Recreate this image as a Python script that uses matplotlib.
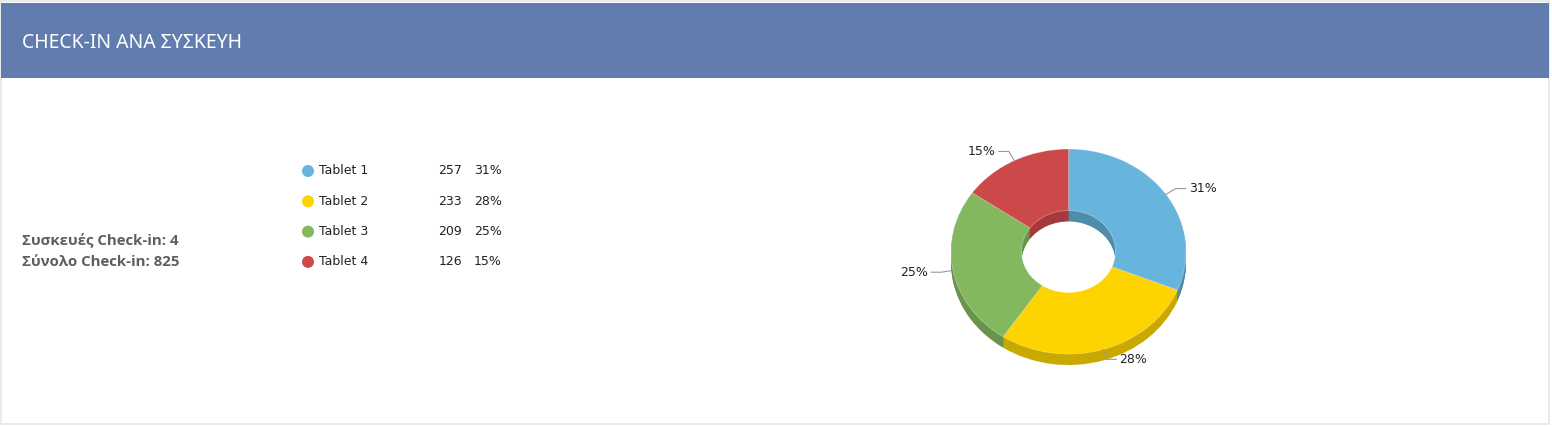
import matplotlib
matplotlib.use("Agg")
import matplotlib.pyplot as plt
from matplotlib.patches import Wedge, Rectangle, Circle
from matplotlib.transforms import Affine2D
import numpy as np

# ---- data ----
title = "CHECK-IN ΑΝΑ ΣΥΣΚΕΥΗ"
summary_lines = ["Συσκευές Check-in: 4", "Σύνολο Check-in: 825"]
categories = ["Tablet 1", "Tablet 2", "Tablet 3", "Tablet 4"]
values = [257, 233, 209, 126]
colors = ["#67b5dd", "#fdd300", "#83b85f", "#cc4949"]
side_colors = ["#4f8cab", "#c9a900", "#69944c", "#a5393b"]

W, H = 1552, 426
fig = plt.figure(figsize=(W / 100, H / 100), dpi=100)
ax = fig.add_axes([0, 0, 1, 1])
ax.set_xlim(0, W)
ax.set_ylim(H, 0)
ax.axis("off")

# panel border + header
ax.add_patch(Rectangle((1, 1), W - 4, H - 3, facecolor="white", edgecolor="#e6e6e6", lw=1.2))
ax.add_patch(Rectangle((1, 3), W - 4, 75, facecolor="#617daf", edgecolor="none"))
ax.text(22, 43, title, color="white", fontsize=14, va="center", ha="left",
        family=["Noto Sans", "DejaVu Sans"], fontweight="light")

# summary text
for i, line in enumerate(summary_lines):
    ax.text(22, 241 + i * 21, line, color="#5e5e5e", fontsize=10.8, va="center", ha="left",
            family=["Open Sans", "Noto Sans", "DejaVu Sans"], fontweight="bold")

total = sum(values)
pcts = [round(v / total * 100) for v in values]

# legend table
for i, (cat, v, p, c) in enumerate(zip(categories, values, pcts, colors)):
    y = 171 + i * 30.3
    ax.add_patch(Circle((308, y), 6, facecolor=c, edgecolor="none"))
    ax.text(319, y, cat, fontsize=9, va="center", ha="left", color="#222222")
    ax.text(462, y, str(v), fontsize=9, va="center", ha="right", color="#222222")
    ax.text(502, y, f"{p}%", fontsize=9, va="center", ha="right", color="#222222")

# 3D donut
cx, cy = 1068.5, 251.5
rx, ry = 117.5, 102.5
hole = 0.4
depth = 11

cum = np.concatenate([[0], np.cumsum(values)])
starts = 90 - 360 * cum[:-1] / total
ends = 90 - 360 * cum[1:] / total

def tr(dy):
    return Affine2D().scale(rx, -ry).translate(cx, cy + dy) + ax.transData

for k in range(depth, 0, -1):
    for s, e, sc in zip(starts, ends, side_colors):
        ax.add_patch(Wedge((0, 0), 1, e, s, width=1 - hole, facecolor=sc,
                           edgecolor="none", transform=tr(k)))
for s, e, c in zip(starts, ends, colors):
    ax.add_patch(Wedge((0, 0), 1, e, s, width=1 - hole, facecolor=c,
                       edgecolor=(1, 1, 1, 0.35), lw=0.6, transform=tr(0)))

# labels with leader lines
for s, e, p in zip(starts, ends, pcts):
    mid = np.deg2rad((s + e) / 2)
    ux, uy = np.cos(mid), np.sin(mid)
    ex, ey = cx + rx * ux, cy - ry * uy
    bx, by = cx + 1.1 * rx * ux, cy - 1.1 * ry * uy
    side = 1 if ux >= 0 else -1
    hx = bx + side * 10
    ax.plot([ex, bx, hx], [ey, by, by], color="#999999", lw=0.8)
    ax.text(hx + side * 3, by, f"{p}%", fontsize=9, color="#222222", va="center",
            ha="left" if side > 0 else "right")

fig.savefig("out.png", dpi=100)
